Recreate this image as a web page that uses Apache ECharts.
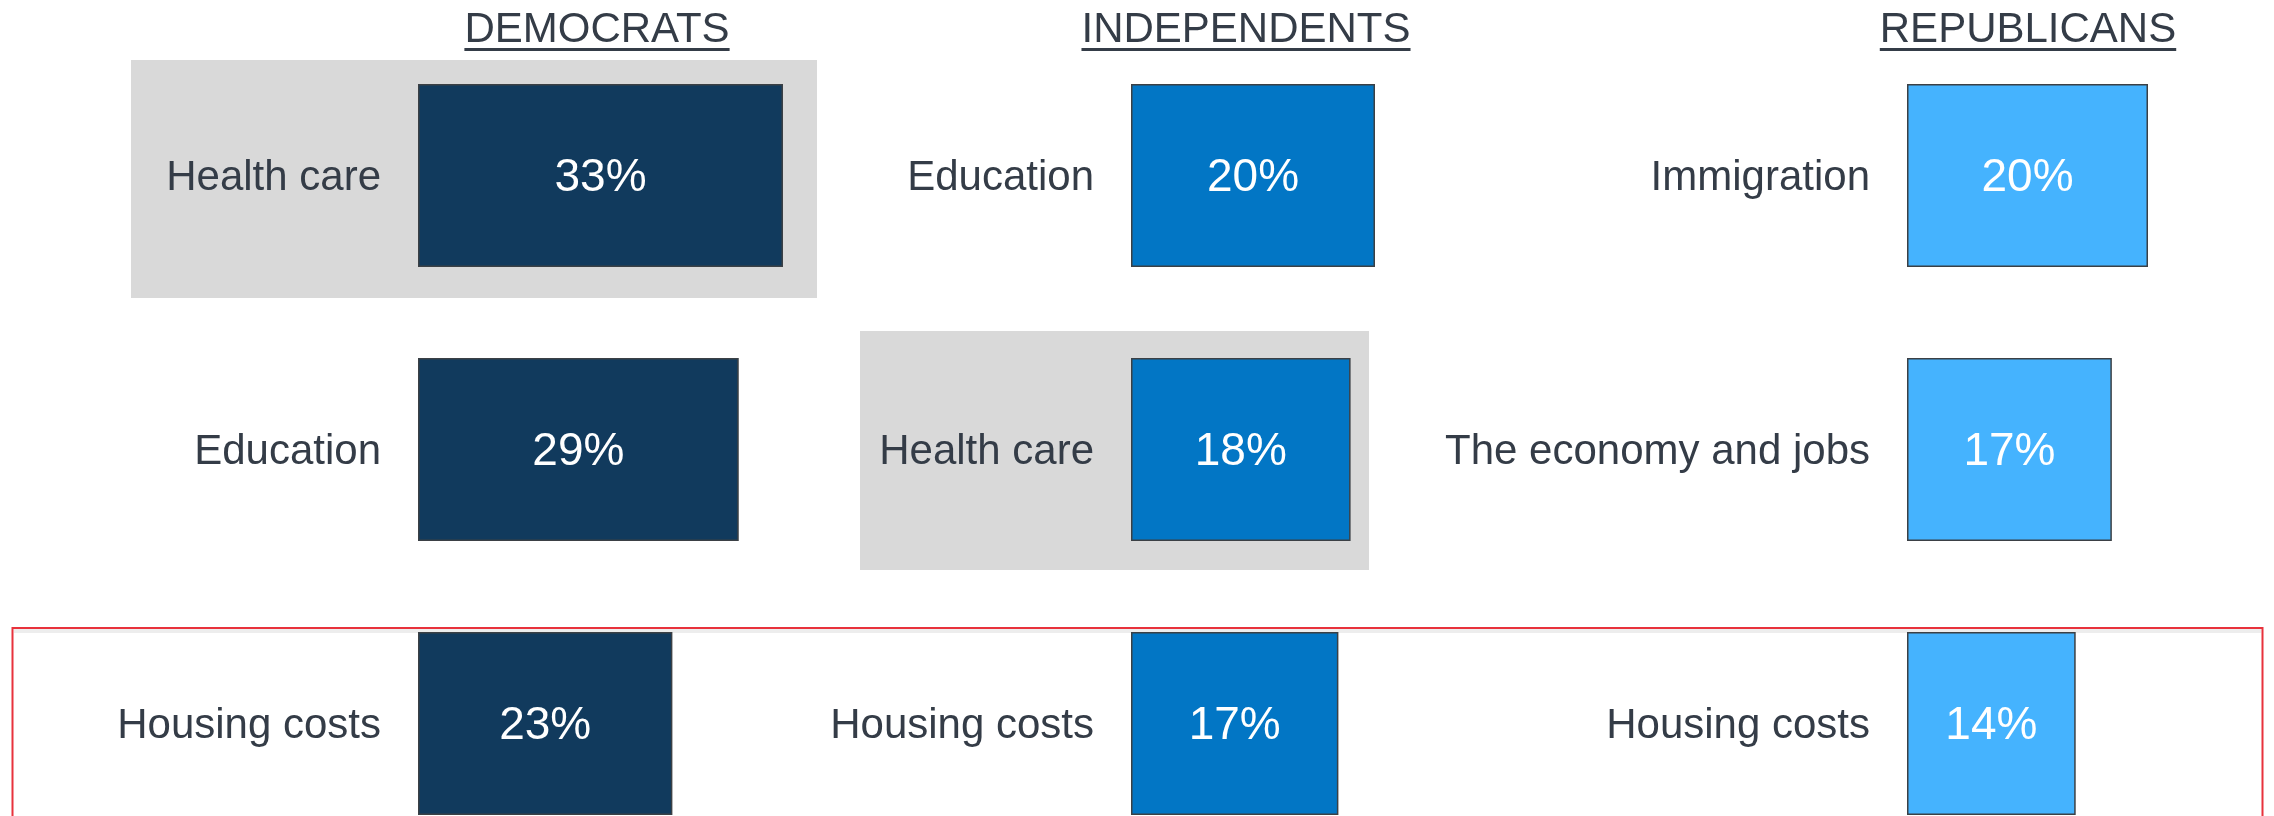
<!DOCTYPE html>
<html>
<head>
<meta charset="utf-8">
<script src="https://cdn.jsdelivr.net/npm/echarts@6/dist/echarts.min.js"></script>
<style>
  html, body { margin: 0; padding: 0; background: #fff; overflow: hidden; }
  #main { width: 2274px; height: 900px; }
</style>
</head>
<body>
<div id="main"></div>
<script>
var chart = echarts.init(document.getElementById('main'));

// data
var headers = ['DEMOCRATS', 'INDEPENDENTS', 'REPUBLICANS'];
var demCats = ['Health care', 'Education', 'Housing costs'];
var demVals = [33, 29, 23];
var indCats = ['Education', 'Health care', 'Housing costs'];
var indVals = [20, 18, 17];
var repCats = ['Immigration', 'The economy and jobs', 'Housing costs'];
var repVals = [20, 17, 14];

var textColor = '#343c47';
var font = 'Liberation Sans, Arial, sans-serif';
var colors = ['#113a5d', '#0276c5', '#45b3fe'];

// panel layout: left edge of bars, axis max, width for that max
var panels = [
    { cats: demCats, vals: demVals, left: 418, max: 33, width: 365, headX: 597 },
    { cats: indCats, vals: indVals, left: 1131, max: 20, width: 244, headX: 1246 },
    { cats: repCats, vals: repVals, left: 1907, max: 20, width: 241, headX: 2028 }
];

var grids = [], xAxes = [], yAxes = [], series = [], graphics = [];

// highlight boxes and red frame
graphics.push({ type: 'rect', shape: { x: 131, y: 60, width: 686, height: 238 }, style: { fill: '#d9d9d9' }, z: -10 });
graphics.push({ type: 'rect', shape: { x: 860, y: 331, width: 509, height: 239 }, style: { fill: '#d9d9d9' }, z: -10 });
graphics.push({ type: 'line', shape: { x1: 14, y1: 631, x2: 2261, y2: 631 }, style: { stroke: 'rgba(0,0,0,0.07)', lineWidth: 4 }, z: -5 });
graphics.push({ type: 'rect', shape: { x: 12.5, y: 628, width: 2250, height: 240 }, style: { fill: 'none', stroke: '#e8323c', lineWidth: 2 }, z: 10 });

panels.forEach(function (p, i) {
    grids.push({ left: p.left, width: p.width, top: 38.5, height: 822, outerBoundsMode: 'none' });
    xAxes.push({ type: 'value', gridIndex: i, min: 0, max: p.max, show: false });
    yAxes.push({
        type: 'category', gridIndex: i, inverse: true, data: p.cats,
        axisLine: { show: false }, axisTick: { show: false },
        axisLabel: { fontSize: 42, color: textColor, fontFamily: font, margin: 37, verticalAlign: 'top', lineHeight: 5 }
    });
    series.push({
        type: 'bar', xAxisIndex: i, yAxisIndex: i, data: p.vals, barWidth: 183,
        itemStyle: { color: colors[i], borderColor: '#3b4045', borderWidth: 1.5 },
        label: { show: true, position: 'inside', offset: [0, 3], color: '#fff', fontSize: 46, fontFamily: font, formatter: '{c}%' }
    });
    graphics.push({
        type: 'text', x: p.headX, y: 30,
        style: { text: headers[i], fill: textColor, font: '42px ' + font, textAlign: 'center', textVerticalAlign: 'middle' }
    });
});

chart.setOption({
    backgroundColor: '#fff',
    animation: false,
    grid: grids,
    xAxis: xAxes,
    yAxis: yAxes,
    series: series,
    graphic: graphics
});

// underline the headers
var ul = [];
panels.forEach(function (p, i) {
    var w = echarts.format.getTextRect ? echarts.format.getTextRect(headers[i], '42px ' + font).width : 270;
    ul.push({ type: 'line', shape: { x1: p.headX - w / 2, y1: 49.5, x2: p.headX + w / 2, y2: 49.5 }, style: { stroke: textColor, lineWidth: 3 } });
});
chart.setOption({ graphic: graphics.concat(ul) });
</script>
</body>
</html>
